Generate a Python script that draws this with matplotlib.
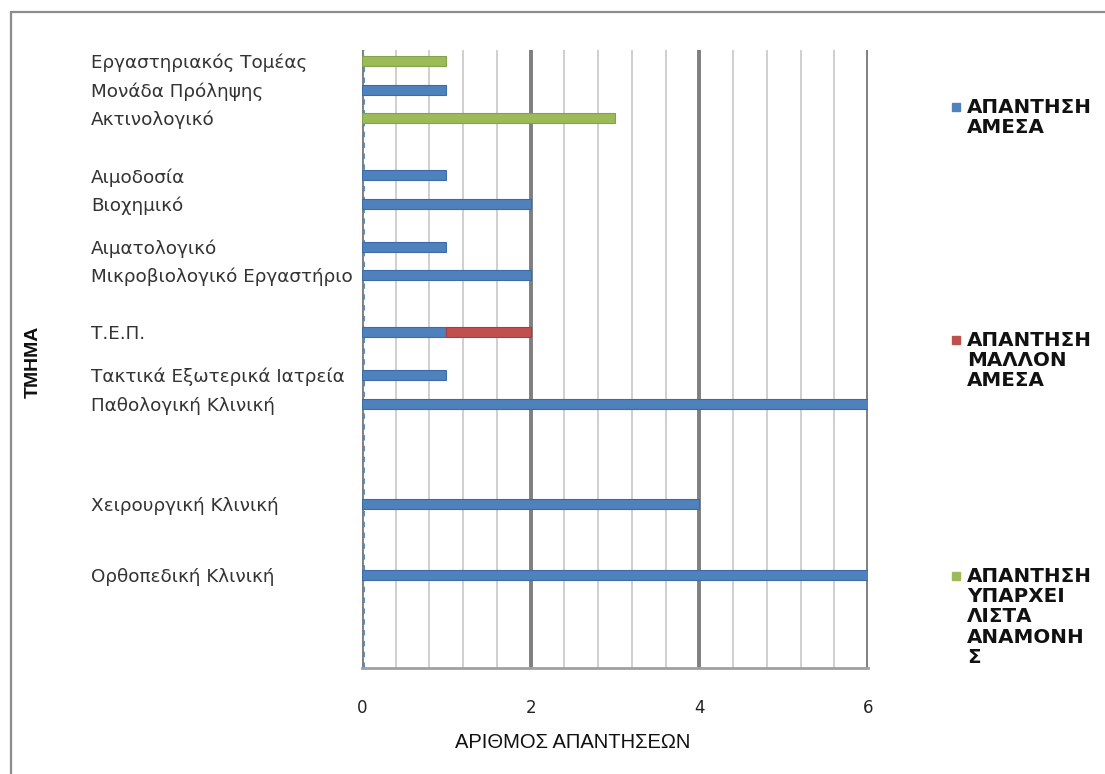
import matplotlib
matplotlib.use("Agg")
import matplotlib.pyplot as plt
from matplotlib.patches import Rectangle
from matplotlib.ticker import MultipleLocator

plt.rcParams['font.family'] = ['Liberation Sans', 'DejaVu Sans']

# Departments, top to bottom
departments = [
    "Εργαστηριακός Τομέας",
    "Μονάδα Πρόληψης",
    "Ακτινολογικό",
    "Αιμοδοσία",
    "Βιοχημικό",
    "Αιματολογικό",
    "Μικροβιολογικό Εργαστήριο",
    "Τ.Ε.Π.",
    "Τακτικά Εξωτερικά Ιατρεία",
    "Παθολογική Κλινική",
    "Χειρουργική Κλινική",
    "Ορθοπεδική Κλινική",
]

# Answer counts per department
direct = [0, 1, 0, 1, 2, 1, 2, 1, 1, 6, 4, 6]
rather_direct = [0, 0, 0, 0, 0, 0, 0, 1, 0, 0, 0, 0]
waiting_list = [1, 0, 3, 0, 0, 0, 0, 0, 0, 0, 0, 0]

series_names = [
    "ΑΠΑΝΤΗΣΗ\nΑΜΕΣΑ",
    "ΑΠΑΝΤΗΣΗ\nΜΑΛΛΟΝ\nΑΜΕΣΑ",
    "ΑΠΑΝΤΗΣΗ\nΥΠΑΡΧΕΙ\nΛΙΣΤΑ\nΑΝΑΜΟΝΗ\nΣ",
]
x_ticks = [0, 2, 4, 6]
x_title = "ΑΡΙΘΜΟΣ ΑΠΑΝΤΗΣΕΩΝ"
y_title = "ΤΜΗΜΑ"

# Row slots (uneven spacing between department rows)
row_slots = [0, 2, 4, 8, 10, 13, 15, 19, 22, 24, 31, 36]

colors = ["#4F81BD", "#C0504D", "#9BBB59"]
edges = ["#3C6CA6", "#A53F3C", "#83A348"]

W, H = 1105, 774
fig = plt.figure(figsize=(W / 100, H / 100), dpi=100)
fig.patch.set_facecolor("white")

# chart frame (left and top edges visible)
fig.patches.append(Rectangle((11 / W, -0.2), 1.2, 1.2 - 12 / H, transform=fig.transFigure,
                             fill=False, edgecolor="#8C8C8C", linewidth=1.6))

ax = fig.add_axes([362 / W, 1 - 668 / H, (868 - 362) / W, (668 - 50) / H])
ax.set_xlim(0, 6)
ax.set_ylim(42.5, -0.77)

# gridlines
ax.xaxis.set_major_locator(MultipleLocator(2))
ax.xaxis.set_minor_locator(MultipleLocator(0.4))
ax.grid(True, which="minor", axis="x", color="#CFCFCF", linewidth=1.4, zorder=0)
ax.grid(True, which="major", axis="x", color="#7F7F7F", linewidth=2.8, zorder=0.5)
for s in ["top", "right", "left"]:
    ax.spines[s].set_visible(False)
ax.spines["bottom"].set_color("#A0A0A0")
ax.spines["bottom"].set_linewidth(2)

ax.axvline(0.025, color="#4F81BD", linewidth=1.3, linestyle=(0, (3, 3)), zorder=1)

height = 0.7
left = [0] * len(departments)
for vals, c, ec in zip([direct, rather_direct, waiting_list], colors, edges):
    ax.barh(row_slots, vals, left=left, height=height, color=c,
            edgecolor=ec, linewidth=[0.8 if v else 0 for v in vals], zorder=3)
    left = [l + v for l, v in zip(left, vals)]

ax.set_xticks(x_ticks)
ax.set_xticklabels([str(t) for t in x_ticks], fontsize=12, color="#222222",
                   family="DejaVu Sans")
ax.tick_params(axis="x", which="both", length=0, pad=22)

ax.set_yticks(row_slots)
ax.set_yticklabels(departments, fontsize=13.2, color="#333333", family="DejaVu Sans")
ax.tick_params(axis="y", length=0, pad=(362 - 91) * 0.72)
for lbl in ax.get_yticklabels():
    lbl.set_horizontalalignment("left")

fig.text(573 / W, 1 - 742 / H, x_title, fontsize=14.5, color="#111111",
         ha="center", va="center")
fig.text(33 / W, 1 - 362 / H, y_title, rotation=90, fontsize=14, fontweight="bold",
         ha="center", va="center", color="#111111")

# legend
legend_tops = [98, 331, 567]
for name, c, top in zip(series_names, colors, legend_tops):
    fig.patches.append(Rectangle((952 / W, 1 - (top + 13) / H), 8 / W, 8 / H,
                                 transform=fig.transFigure, color=c))
    fig.text(967 / W, 1 - top / H, name, fontsize=14.3, fontweight="bold",
             family="DejaVu Sans", ha="left", va="top", color="#111111",
             linespacing=1.08)

fig.savefig("out.png", dpi=100)
